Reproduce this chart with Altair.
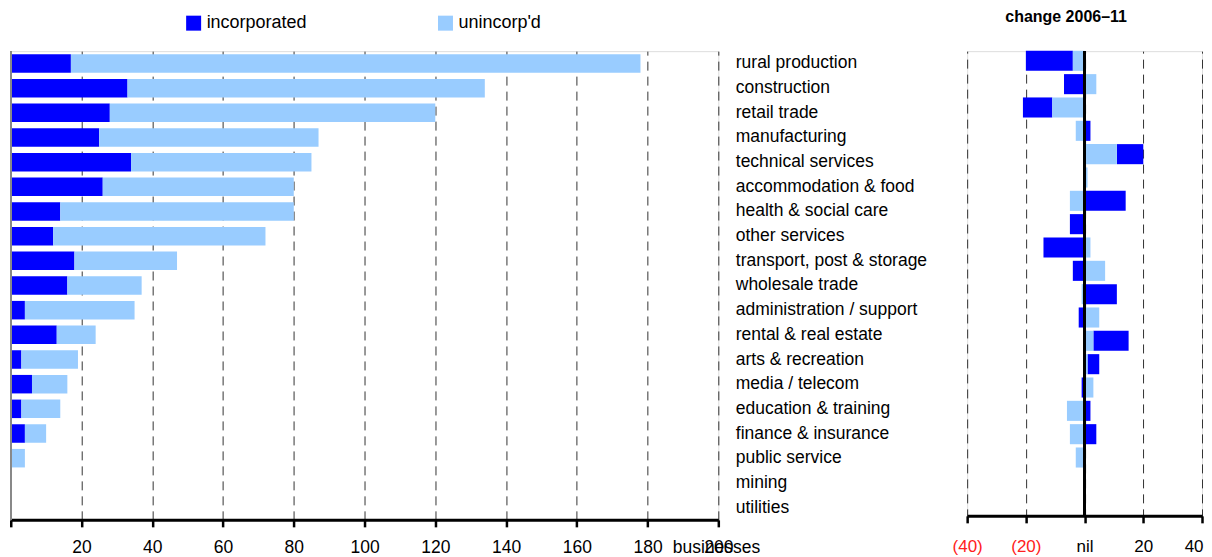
import altair as alt
import pandas as pd

categories = ["rural production", "construction", "retail trade", "manufacturing",
              "technical services", "accommodation & food", "health & social care",
              "other services", "transport, post & storage", "wholesale trade",
              "administration / support", "rental & real estate", "arts & recreation",
              "media / telecom", "education & training", "finance & insurance",
              "public service", "mining", "utilities"]
incorporated = [17, 33, 28, 25, 34, 26, 14, 12, 18, 16, 4, 13, 3, 6, 3, 4, 0, 0, 0]
unincorporated = [161, 101, 92, 62, 51, 54, 66, 60, 29, 21, 31, 11, 16, 10, 11, 6, 4, 0, 0]
inc_change = [-16, -7, -10, 2, 9, 0, 14, -5, -14, -4, 11, -2, 12, 4, -1, 2, 4, 0, 0]
unc_change = [-4, 4, -11, -3, 11, 1, -5, 0, 2, 7, -1, 5, 3, 1, 3, -6, -5, -3, 0]
series = ["incorporated", "unincorp'd"]
colors = ["#0000ff", "#99ccff"]
left_ticks = list(range(0, 201, 20))
right_ticks = [-40, -20, 0, 20, 40]

rows = []
for i, c in enumerate(categories):
    rows.append({"category": c, "series": series[0], "count": incorporated[i],
                 "change": inc_change[i], "lorder": 0, "rorder": 1})
    rows.append({"category": c, "series": series[1], "count": unincorporated[i],
                 "change": unc_change[i], "lorder": 1, "rorder": 0})
df = pd.DataFrame(rows)

FONT = "Liberation Sans"

left_bars = alt.Chart(df).mark_bar().encode(
    x=alt.X("count:Q", stack="zero",
            scale=alt.Scale(domain=[0, 200], nice=False, zero=True),
            axis=alt.Axis(values=left_ticks, grid=True, gridDash=[9, 6], gridColor="#333333",
                          gridWidth=1, domainColor="black", domainWidth=3,
                          tickColor="black", tickWidth=2.5, tickSize=7,
                          labelPadding=12, labelFontSize=17.5, labelColor="black",
                          labelFont=FONT, labelFlush=False, labelOverlap=False,
                          labelExpr="datum.value == 0 ? '' : datum.label",
                          title="businesses", titleX=662, titleY=19, titleAlign="left",
                          titleBaseline="top", titleFontWeight="normal", titleFontSize=17.5,
                          titleFont=FONT, titleColor="black")),
    y=alt.Y("category:N", sort=categories,
            scale=alt.Scale(domain=categories, paddingInner=0.25, paddingOuter=0.125),
            axis=alt.Axis(orient="right", ticks=False, domain=False, labelPadding=17,
                          labelFontSize=17.5, labelColor="black", labelFont=FONT,
                          labelAlign="left", labelLimit=300, title=None)),
    color=alt.Color("series:N", scale=alt.Scale(domain=series, range=colors),
                    legend=alt.Legend(orient="none", legendX=174, legendY=-37,
                                      direction="horizontal", title=None,
                                      symbolType="square", symbolSize=225,
                                      symbolStrokeWidth=0, symbolOpacity=1,
                                      labelFontSize=18, labelFont=FONT, labelColor="black",
                                      labelOffset=4, columnPadding=129)),
    order=alt.Order("lorder:Q", sort="ascending"),
)

left_edge = alt.Chart(df).mark_rule(color="#888888", strokeWidth=1.5).encode(x=alt.datum(0))

left = alt.layer(left_bars, left_edge).properties(width=708, height=469)

right_bars = alt.Chart(df).mark_bar().encode(
    x=alt.X("change:Q", stack="zero",
            scale=alt.Scale(domain=[-40, 40], nice=False),
            axis=alt.Axis(values=right_ticks, grid=True, gridDash=[9, 6], gridColor="#333333",
                          gridWidth=1, domainColor="black", domainWidth=3,
                          tickColor="black", tickWidth=2.5, tickSize=7,
                          labelPadding=16, labelFontSize=17, labelFont=FONT,
                          labelFlush=False, labelOverlap=False,
                          labelAlign={"condition": {"test": "datum.value == 40", "value": "right"},
                                      "value": "center"},
                          labelOffset={"condition": {"test": "datum.value == 40", "value": 1},
                                       "value": 0},
                          labelColor={"condition": {"test": "datum.value < 0", "value": "#ff2020"},
                                      "value": "black"},
                          labelExpr="datum.value < 0 ? '(' + format(-datum.value, 'd') + ')' : (datum.value == 0 ? 'nil' : format(datum.value, 'd'))",
                          title=None)),
    y=alt.Y("category:N",
            scale=alt.Scale(domain=categories + [" "], paddingInner=0.14, paddingOuter=0.07,
                            range=[-2, 465]),
            axis=None),
    color=alt.Color("series:N", scale=alt.Scale(domain=series, range=colors), legend=None),
    order=alt.Order("rorder:Q", sort="ascending"),
)

zero_line = alt.Chart(df).mark_rule(color="black", strokeWidth=1.5).encode(x=alt.datum(0))

right = alt.layer(right_bars, zero_line).properties(
    width=235, height=465,
    title=alt.TitleParams("change 2006–11", fontSize=16, fontWeight="bold", font=FONT,
                          color="black", offset=25.6, dx=-18.5, anchor="middle"),
)

chart = alt.hconcat(left, right, spacing=249, bounds="flush").resolve_scale(
    color="independent", x="independent", y="independent"
).resolve_legend(color="independent").configure_view(stroke=None).configure(
    font=FONT
).properties(padding={"left": 0.75, "top": 0, "right": 0, "bottom": 0})

chart.save("out.html", embed_options={"renderer": "svg", "actions": False})
